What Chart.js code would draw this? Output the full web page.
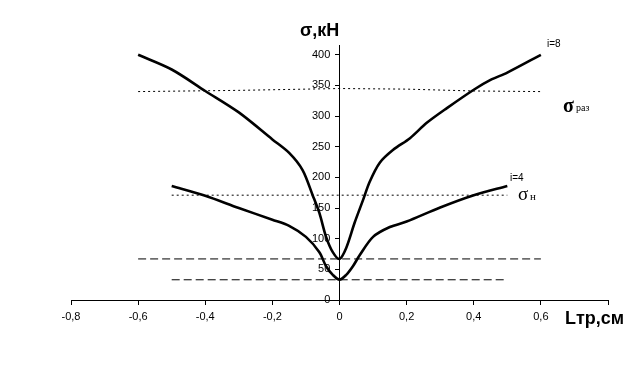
<!DOCTYPE html>
<html>
<head>
<meta charset="utf-8">
<script src="https://cdn.jsdelivr.net/npm/chart.js@4/dist/chart.umd.min.js"></script>
<style>
  html, body { margin: 0; padding: 0; background: #fff; }
  #wrap { width: 634px; height: 375px; }
</style>
</head>
<body>
<div id="wrap"><canvas id="chart"></canvas></div>
<script>
  // values
  var xTicks = [-0.8, -0.6, -0.4, -0.2, 0, 0.2, 0.4, 0.6, 0.8];
  var yTicks = [0, 50, 100, 150, 200, 250, 300, 350, 400];

  var l8 = [-0.6, -0.5, -0.4, -0.3, -0.2, -0.15, -0.11, -0.08, -0.06, -0.04, -0.02, 0,
            0.02, 0.045, 0.07, 0.09, 0.12, 0.16, 0.21, 0.26, 0.32, 0.4, 0.45, 0.5, 0.6];
  var sigma8 = [400, 376, 341, 306, 262, 240, 212, 171, 142, 103, 78, 67,
                85, 126, 163, 193, 224, 245, 264, 289, 313, 343, 359, 371, 400];

  var l4 = [-0.5, -0.4, -0.3, -0.2, -0.15, -0.1, -0.06, -0.04, -0.02, 0,
            0.02, 0.04, 0.06, 0.1, 0.15, 0.2, 0.3, 0.4, 0.5];
  var sigma4 = [186, 170, 150, 131, 121, 103, 78, 55, 41, 33,
                41, 55, 73, 103, 119, 128, 151, 171, 186];

  var lRaz = [-0.6, -0.3, 0, 0.2, 0.4, 0.6];
  var sigmaRaz = [340, 342, 345, 344, 341, 340];

  var lN = [-0.5, 0.5];
  var sigmaN = [171, 171];

  var lMin8 = [-0.6, 0.6];
  var sigmaMin8 = [67, 67];

  var lMin4 = [-0.5, 0.5];
  var sigmaMin4 = [33, 33];

  function pts(xs, ys) {
    return xs.map(function (x, i) { return { x: x, y: ys[i] }; });
  }

  function fmt(v) {
    var r = Math.round(v * 10) / 10;
    if (r === 0) return '0';
    if (r >= 0.8) return '';   // last tick has no label
    return r.toFixed(1).replace('.', ',');
  }

  var curve = { borderColor: '#000', borderWidth: 2.6, pointRadius: 0, tension: 0.3, fill: false };
  var dotted = { borderColor: '#000', borderWidth: 1, borderDash: [2, 3], pointRadius: 0, tension: 0, fill: false };
  var dashed = { borderColor: '#000', borderWidth: 1, borderDash: [8, 4], pointRadius: 0, tension: 0, fill: false };

  var data = {
    datasets: [
      Object.assign({ label: 'i=8', data: pts(l8, sigma8) }, curve),
      Object.assign({ label: 'i=4', data: pts(l4, sigma4) }, curve),
      Object.assign({ label: 'σраз', data: pts(lRaz, sigmaRaz) }, dotted),
      Object.assign({ label: 'σн', data: pts(lN, sigmaN) }, dotted),
      Object.assign({ label: 'min8', data: pts(lMin8, sigmaMin8) }, dashed),
      Object.assign({ label: 'min4', data: pts(lMin4, sigmaMin4) }, dashed)
    ]
  };

  var labelsPlugin = {
    id: 'labels',
    afterDraw: function (chart) {
      var c = chart.ctx;
      c.save();
      c.fillStyle = '#000';
      c.textBaseline = 'alphabetic';
      c.textAlign = 'left';
      c.font = 'bold 18px "Liberation Sans", Arial, sans-serif';
      c.fillText('σ,кН', 300, 36);
      c.fillText('Lтр,см', 565, 324);
      c.font = '10px "Liberation Sans", Arial, sans-serif';
      c.fillText('i=8', 547, 47);
      c.fillText('i=4', 510, 181);
      c.font = 'bold 20px "Liberation Serif", "Times New Roman", serif';
      c.fillText('σ', 563, 112);
      c.font = '10px "Liberation Serif", "Times New Roman", serif';
      c.fillText('раз', 576, 111);
      c.font = '19px "Liberation Serif", "Times New Roman", serif';
      c.fillText('σ', 518, 200);
      c.font = '11px "Liberation Serif", "Times New Roman", serif';
      c.fillText('н', 530, 200);
      c.restore();
    }
  };

  var options = {
    responsive: false,
    animation: false,
    layout: { padding: { left: 71, right: 26, top: 45, bottom: 75 } },
    plugins: { legend: { display: false }, tooltip: { enabled: false } },
    scales: {
      x: {
        type: 'linear',
        position: { y: 0 },
        min: -0.8,
        max: 0.8,
        afterFit: function (s) { s.height = 0; },
        afterBuildTicks: function (s) { s.ticks = xTicks.map(function (v) { return { value: v }; }); },
        border: { color: '#000', width: 1 },
        grid: { drawOnChartArea: false, color: '#000', tickLength: 4 },
        ticks: {
          color: '#000',
          font: { family: '"Liberation Sans", Arial, sans-serif', size: 11 },
          padding: 6,
          maxRotation: 0,
          callback: function (v) { return fmt(v); }
        }
      },
      y: {
        type: 'linear',
        position: { x: 0 },
        min: 0,
        max: 416,
        afterFit: function (s) { s.width = 0; },
        afterBuildTicks: function (s) { s.ticks = yTicks.map(function (v) { return { value: v }; }); },
        border: { color: '#000', width: 1 },
        grid: { drawOnChartArea: false, color: '#000', tickLength: 4 },
        ticks: {
          color: '#000',
          font: { family: '"Liberation Sans", Arial, sans-serif', size: 11 },
          padding: 3,
          // labels sit right-aligned on the axis line, trailing spaces move them off it
          callback: function (v) { return String(v) + '   '; }
        }
      }
    }
  };

  var canvas = document.getElementById('chart');
  canvas.width = 634;
  canvas.height = 375;
  var myChart = new Chart(canvas.getContext('2d'), {
    type: 'line',
    data: data,
    options: options,
    plugins: [labelsPlugin]
  });
</script>
</body>
</html>
